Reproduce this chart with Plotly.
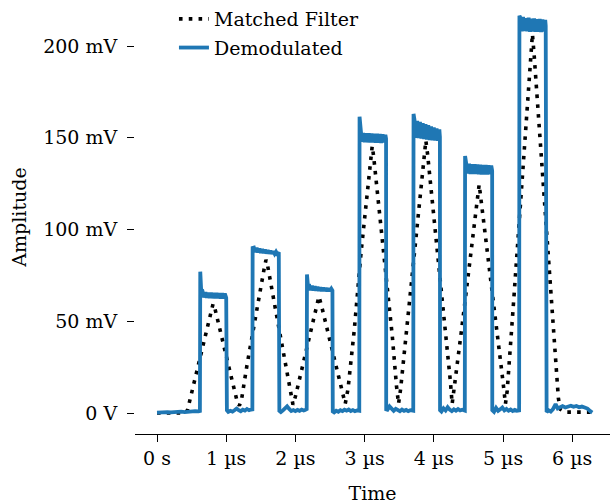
import plotly.graph_objects as go

# ---- axis ticks ----
time_ticks = [0, 1, 2, 3, 4, 5, 6]
time_labels = ["0 s", "1 µs", "2 µs", "3 µs", "4 µs", "5 µs", "6 µs"]
amp_ticks = [0, 50, 100, 150, 200]
amp_labels = ["0 V", "50 mV", "100 mV", "150 mV", "200 mV"]

# ---- matched filter output (time in µs, amplitude in mV) ----
mf_t = [0.00, 0.40, 0.44, 0.50, 0.60, 0.70, 0.77, 0.79, 0.81, 0.83, 0.90, 1.00, 1.10, 1.16, 1.19, 1.22,
        1.30, 1.40, 1.50, 1.55, 1.575, 1.60, 1.70, 1.80, 1.90, 1.94, 1.965,
        2.00, 2.10, 2.20, 2.30, 2.34, 2.38, 2.50, 2.60, 2.68, 2.72,
        2.76, 2.85, 2.95, 3.05, 3.09, 3.11, 3.13, 3.20, 3.30, 3.40, 3.46, 3.49,
        3.52, 3.60, 3.70, 3.80, 3.86, 3.885, 3.91, 4.00, 4.10, 4.20, 4.24, 4.265,
        4.30, 4.40, 4.50, 4.60, 4.64, 4.655, 4.67, 4.75, 4.85, 4.95, 5.00, 5.035,
        5.06, 5.15, 5.25, 5.35, 5.40, 5.425, 5.45, 5.55, 5.65, 5.75, 5.80, 5.83, 5.90, 6.29]
mf_v = [0.0, 0.0, 1.5, 11.0, 27.0, 43.0, 55.0, 57.5, 59.5, 58.0, 47.0, 31.0, 15.0, 6.0, 4.0, 7.0,
        26.0, 48.0, 69.0, 79.0, 83.5, 80.0, 59.0, 38.0, 17.0, 8.0, 4.5,
        9.0, 25.0, 41.0, 57.0, 63.5, 58.0, 39.0, 23.0, 10.0, 5.0,
        13.0, 45.0, 88.0, 124.0, 140.0, 145.5, 140.0, 115.0, 79.0, 42.0, 15.0, 5.0,
        13.0, 43.0, 80.0, 117.0, 140.0, 148.5, 141.0, 108.0, 72.0, 35.0, 17.0, 5.0,
        15.0, 45.0, 76.0, 107.0, 120.0, 124.5, 120.0, 96.0, 65.0, 34.0, 17.0, 5.0,
        12.0, 59.0, 111.0, 165.0, 193.0, 206.5, 195.0, 142.0, 90.0, 37.0, 8.0, 2.0, 0.5, 0.5]

# ---- demodulated envelope (time in µs, amplitude in mV) ----
dm_t = [0.00, 0.05, 0.10, 0.15, 0.20, 0.25, 0.30, 0.35, 0.40, 0.45, 0.50, 0.55, 0.60, 0.62,
        # pulse 1
        0.625, 0.64, 0.66, 0.68, 0.70, 0.72, 0.74, 0.76, 0.78, 0.80, 0.82, 0.84, 0.86, 0.88,
        0.90, 0.92, 0.94, 0.96, 0.98, 1.00, 1.01,
        1.03, 1.06, 1.09, 1.12, 1.15, 1.18, 1.21, 1.24, 1.27, 1.30, 1.33, 1.36, 1.378,
        # pulse 2
        1.382, 1.40, 1.42, 1.44, 1.46, 1.48, 1.50, 1.52, 1.54, 1.56, 1.58, 1.60, 1.62, 1.64,
        1.66, 1.68, 1.70, 1.72, 1.74, 1.76, 1.768,
        1.79, 1.82, 1.85, 1.88, 1.91, 1.94, 1.97, 2.00, 2.03, 2.06, 2.09, 2.12, 2.15, 2.163,
        # pulse 3
        2.167, 2.18, 2.20, 2.22, 2.24, 2.26, 2.28, 2.30, 2.32, 2.34, 2.36, 2.38, 2.40, 2.42,
        2.44, 2.46, 2.48, 2.50, 2.52, 2.535, 2.54,
        2.56, 2.59, 2.62, 2.65, 2.68, 2.71, 2.74, 2.77, 2.80, 2.83, 2.86, 2.89, 2.923,
        # pulse 4
        2.927, 2.94, 2.96, 2.98, 3.00, 3.02, 3.04, 3.06, 3.08, 3.10, 3.12, 3.14, 3.16, 3.18,
        3.20, 3.22, 3.24, 3.26, 3.28, 3.30, 3.31, 3.312,
        3.33, 3.36, 3.39, 3.42, 3.45, 3.48, 3.51, 3.54, 3.57, 3.60, 3.63, 3.66, 3.703,
        # pulse 5
        3.707, 3.72, 3.74, 3.76, 3.78, 3.80, 3.82, 3.84, 3.86, 3.88, 3.90, 3.92, 3.94, 3.96,
        3.98, 4.00, 4.02, 4.04, 4.06, 4.08, 4.088, 4.09,
        4.11, 4.14, 4.17, 4.20, 4.23, 4.26, 4.29, 4.32, 4.35, 4.38, 4.41, 4.448,
        # pulse 6
        4.452, 4.47, 4.49, 4.51, 4.53, 4.55, 4.57, 4.59, 4.61, 4.63, 4.65, 4.67, 4.69, 4.71,
        4.73, 4.75, 4.77, 4.79, 4.81, 4.83, 4.843, 4.845,
        4.87, 4.90, 4.93, 4.96, 4.99, 5.02, 5.05, 5.08, 5.11, 5.14, 5.17, 5.20, 5.233,
        # pulse 7
        5.237, 5.25, 5.27, 5.29, 5.31, 5.33, 5.35, 5.37, 5.39, 5.41, 5.43, 5.45, 5.47, 5.49,
        5.51, 5.53, 5.55, 5.57, 5.59, 5.61, 5.617, 5.62,
        5.63, 5.66, 5.69, 5.72, 5.76, 5.79, 5.82, 5.86, 5.90, 5.94, 5.98, 6.02, 6.06, 6.10,
        6.14, 6.18, 6.22, 6.26, 6.29]
dm_v = [0.2, 0.4, 0.1, 0.5, 0.3, 0.6, 0.4, 0.7, 0.5, 0.8, 0.7, 1.0, 0.9, 1.1,
        77.0, 65.5, 66.0, 63.0, 65.8, 62.8, 65.6, 62.7, 65.5, 62.6, 65.4, 62.5, 65.4, 62.5,
        65.3, 62.4, 65.2, 62.4, 65.1, 62.8, 1.5,
        0.6, 1.2, 0.8, 1.5, 2.4, 1.6, 1.0, 1.8, 1.3, 2.2, 1.5, 1.9, 2.0,
        90.0, 90.2, 87.6, 90.0, 87.5, 89.6, 87.3, 89.3, 87.2, 89.0, 87.0, 88.7, 86.9, 88.4,
        86.8, 88.1, 86.7, 87.9, 86.6, 87.6, 1.2,
        0.5, 1.4, 2.9, 3.6, 2.2, 1.1, 1.6, 1.0, 1.7, 1.2, 1.9, 1.4, 1.8, 1.5,
        75.5, 69.8, 69.6, 66.9, 69.4, 66.8, 69.0, 66.7, 68.7, 66.6, 68.5, 66.5, 68.3, 66.5,
        68.1, 66.4, 67.9, 66.4, 67.7, 66.8, 0.8,
        0.3, 1.2, 0.7, 1.5, 1.0, 1.8, 1.3, 1.9, 1.1, 1.6, 1.0, 1.4, 1.2,
        161.5, 152.5, 147.8, 152.6, 147.6, 152.5, 147.5, 152.4, 147.4, 152.3, 147.4, 152.2, 147.3, 152.1,
        147.3, 152.0, 147.2, 151.9, 147.4, 151.6, 149.5, 2.0,
        1.8, 3.6, 2.0, 1.2, 2.3, 1.5, 1.0, 1.9, 1.2, 1.7, 1.0, 1.5, 1.2,
        163.0, 160.0, 150.0, 159.2, 149.8, 158.6, 149.5, 158.0, 149.3, 157.4, 149.0, 156.8, 148.8, 156.2,
        148.6, 155.6, 148.5, 155.0, 148.4, 154.5, 150.5, 1.5,
        0.8, 2.6, 1.4, 3.2, 1.8, 1.0, 2.0, 1.3, 2.1, 1.4, 1.8, 1.3,
        140.0, 135.5, 130.5, 135.8, 130.3, 135.6, 130.2, 135.5, 130.2, 135.4, 130.1, 135.3, 130.0, 135.2,
        130.0, 135.1, 130.0, 135.0, 130.2, 134.8, 132.0, 1.5,
        0.6, 2.8, 1.2, 2.0, 3.0, 1.4, 2.2, 1.3, 1.9, 1.1, 1.7, 1.2, 1.4,
        216.5, 215.5, 208.0, 215.8, 208.2, 215.2, 208.0, 215.4, 207.8, 214.9, 207.9, 215.0, 207.7, 214.6,
        207.8, 214.8, 207.6, 214.4, 207.9, 214.2, 211.0, 1.5,
        0.5, 1.5, 0.8, 2.0, 4.8, 2.5, 3.2, 3.8, 3.0, 3.6, 4.0, 3.4, 3.8, 3.1,
        3.5, 3.0, 2.4, 1.0, 0.2]

SERIF = "DejaVu Serif"
BLUE = "#1f77b4"
TEXT = dict(family=SERIF, size=19, color="black")

fig = go.Figure()
fig.add_trace(go.Scatter(
    x=mf_t, y=mf_v, mode="lines", name="Matched Filter",
    line=dict(color="black", width=3.6, dash="3.6px,6.2px"),
    legendgroup="mf",
))
fig.add_trace(go.Scatter(
    x=dm_t, y=dm_v, mode="lines", name="Demodulated",
    line=dict(color=BLUE, width=3.8),
    legendgroup="dm",
))

fig.update_layout(
    width=610, height=504,
    margin=dict(l=135, r=0, t=0, b=70),
    paper_bgcolor="white", plot_bgcolor="white",
    font=TEXT,
    showlegend=True,
    legend=dict(
        x=0.082, y=1.0, xanchor="left", yanchor="top",
        bgcolor="rgba(0,0,0,0)", borderwidth=0,
        font=TEXT,
        traceorder="grouped", tracegroupgap=1,
    ),
    xaxis=dict(
        range=[-0.318, 6.546],
        tickmode="array", tickvals=time_ticks, ticktext=time_labels,
        tickfont=TEXT,
        showline=True, linecolor="black", linewidth=1.4,
        ticks="outside", ticklen=7, tickwidth=1.4, tickcolor="black",
        showgrid=False, zeroline=False,
        title=dict(text="Time", standoff=18, font=TEXT),
    ),
    yaxis=dict(
        range=[-11.44, 225.07],
        tickmode="array", tickvals=amp_ticks, ticktext=amp_labels,
        tickfont=TEXT, ticklabelstandoff=6,
        showline=False,
        ticks="outside", ticklen=7, tickwidth=1.4, tickcolor="black",
        showgrid=False, zeroline=False,
        title=dict(text="Amplitude", standoff=11, font=TEXT),
    ),
)

fig.write_html("out.html")
